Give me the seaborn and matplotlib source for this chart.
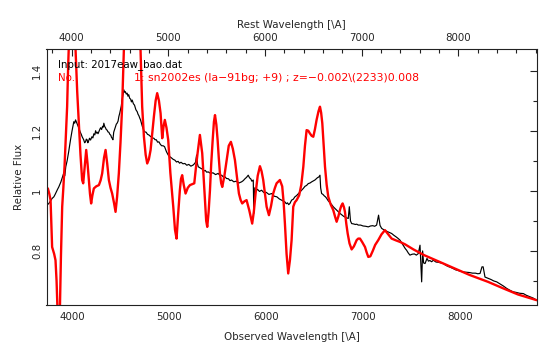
import numpy as np
import pandas as pd
import matplotlib
matplotlib.use("Agg")
import matplotlib.pyplot as plt
from matplotlib.ticker import MultipleLocator, FixedLocator
import seaborn as sns

# ---------------- data ----------------
z_fit = -0.002

obs_wave = [3731, 3745, 3760, 3775, 3790, 3807, 3820, 3830, 3845, 3858, 3870, 3880, 3895, 3910, 3920, 3930,
            3944, 3960, 3979, 3995, 4013, 4022, 4031, 4045, 4055, 4065, 4080, 4090, 4099, 4115, 4125, 4134,
            4142, 4150, 4158, 4165, 4175, 4186, 4200, 4210, 4220, 4230, 4238, 4246, 4255, 4263, 4272, 4282,
            4290, 4300, 4310, 4318, 4323, 4332, 4340, 4348, 4357, 4366, 4375, 4385, 4395, 4402, 4409, 4417,
            4425, 4435, 4445, 4452, 4460, 4470, 4478, 4487, 4495, 4503, 4510, 4520, 4530, 4538, 4545, 4555,
            4564, 4572, 4580, 4590, 4600, 4608, 4616, 4628, 4640, 4654, 4668, 4676, 4685, 4694, 4702, 4711,
            4720, 4728, 4737, 4748, 4760, 4774, 4788, 4798, 4810, 4825, 4840, 4852, 4865, 4878, 4892, 4906,
            4920, 4935, 4950, 4960, 4970, 4980, 4988, 5003, 5020, 5038, 5057, 5073, 5090, 5105, 5120, 5140,
            5160, 5180, 5200, 5222, 5246, 5258, 5270, 5281, 5290, 5298, 5320, 5340, 5355, 5370, 5385, 5401,
            5425, 5450, 5477, 5504, 5522, 5540, 5557, 5573, 5590, 5610, 5626, 5642, 5665, 5690, 5718, 5746,
            5763, 5780, 5797, 5814, 5828, 5840, 5852, 5866, 5872, 5882, 5896, 5910, 5930, 5952, 5976, 6000,
            6028, 6056, 6083, 6110, 6135, 6159, 6176, 6193, 6207, 6220, 6232, 6245, 6262, 6279, 6296, 6313,
            6330, 6348, 6366, 6383, 6400, 6417, 6434, 6452, 6470, 6487, 6503, 6517, 6530, 6543, 6555, 6562,
            6572, 6586, 6600, 6612, 6624, 6642, 6660, 6676, 6692, 6711, 6730, 6745, 6761, 6780, 6800, 6823,
            6847, 6858, 6870, 6882, 6900, 6920, 6935, 6950, 6975, 7000, 7027, 7054, 7077, 7100, 7120, 7140,
            7160, 7175, 7192, 7216, 7240, 7268, 7295, 7318, 7340, 7360, 7381, 7400, 7420, 7435, 7450, 7467,
            7484, 7507, 7530, 7550, 7570, 7588, 7605, 7615, 7625, 7640, 7660, 7675, 7690, 7708, 7726, 7753,
            7780, 7805, 7829, 7855, 7880, 7905, 7932, 7956, 7980, 8008, 8035, 8068, 8100, 8130, 8160, 8185,
            8208, 8228, 8240, 8259, 8290, 8320, 8350, 8380, 8415, 8450, 8484, 8517, 8548, 8580, 8618, 8655,
            8688, 8720, 8757, 8793]
obs_flux = [0.950, 0.955, 0.960, 0.968, 0.975, 0.980, 0.988, 0.995, 1.005, 1.013, 1.022, 1.030, 1.045, 1.060, 1.050, 1.080,
            1.100, 1.130, 1.170, 1.200, 1.230, 1.225, 1.236, 1.225, 1.218, 1.209, 1.195, 1.188, 1.180, 1.170, 1.160, 1.163,
            1.172, 1.170, 1.160, 1.165, 1.175, 1.169, 1.180, 1.176, 1.190, 1.186, 1.200, 1.192, 1.195, 1.190, 1.197, 1.205,
            1.210, 1.204, 1.215, 1.212, 1.225, 1.214, 1.210, 1.204, 1.202, 1.196, 1.195, 1.188, 1.185, 1.178, 1.175, 1.170,
            1.195, 1.205, 1.215, 1.222, 1.225, 1.232, 1.247, 1.258, 1.270, 1.282, 1.300, 1.318, 1.336, 1.328, 1.330, 1.322,
            1.325, 1.315, 1.320, 1.308, 1.305, 1.296, 1.302, 1.290, 1.285, 1.270, 1.263, 1.255, 1.250, 1.242, 1.236, 1.225,
            1.215, 1.208, 1.200, 1.196, 1.195, 1.188, 1.186, 1.183, 1.180, 1.176, 1.175, 1.170, 1.170, 1.162, 1.163, 1.155,
            1.150, 1.150, 1.147, 1.138, 1.130, 1.124, 1.119, 1.114, 1.110, 1.105, 1.102, 1.096, 1.098, 1.092, 1.095, 1.090,
            1.091, 1.085, 1.088, 1.082, 1.086, 1.090, 1.095, 1.119, 1.090, 1.080, 1.076, 1.072, 1.066, 1.068, 1.062, 1.063,
            1.058, 1.060, 1.054, 1.058, 1.051, 1.052, 1.046, 1.047, 1.041, 1.040, 1.034, 1.036, 1.030, 1.032, 1.026, 1.030,
            1.034, 1.040, 1.045, 1.052, 1.043, 1.040, 1.032, 1.036, 0.925, 1.010, 1.000, 1.005, 0.998, 1.002, 0.994, 0.995,
            0.988, 0.991, 0.982, 0.980, 0.973, 0.969, 0.966, 0.963, 0.957, 0.960, 0.954, 0.958, 0.969, 0.972, 0.980, 0.984,
            0.990, 0.996, 1.002, 1.008, 1.015, 1.018, 1.024, 1.026, 1.030, 1.033, 1.036, 1.040, 1.044, 1.046, 1.052, 1.010,
            0.991, 0.988, 0.983, 0.980, 0.975, 0.966, 0.960, 0.954, 0.947, 0.941, 0.935, 0.930, 0.925, 0.920, 0.915, 0.911,
            0.908, 0.947, 0.900, 0.891, 0.890, 0.888, 0.889, 0.886, 0.886, 0.883, 0.882, 0.880, 0.883, 0.884, 0.882, 0.886,
            0.919, 0.885, 0.875, 0.870, 0.866, 0.862, 0.858, 0.852, 0.847, 0.842, 0.836, 0.826, 0.815, 0.808, 0.802, 0.793,
            0.786, 0.789, 0.790, 0.786, 0.791, 0.819, 0.697, 0.800, 0.760, 0.758, 0.775, 0.766, 0.768, 0.764, 0.769, 0.763,
            0.762, 0.760, 0.758, 0.752, 0.748, 0.745, 0.741, 0.737, 0.735, 0.732, 0.730, 0.729, 0.728, 0.726, 0.726, 0.724,
            0.725, 0.747, 0.747, 0.713, 0.709, 0.705, 0.700, 0.697, 0.690, 0.683, 0.675, 0.669, 0.664, 0.662, 0.659, 0.658,
            0.652, 0.648, 0.643, 0.636]

tpl_wave = [3731, 3745, 3760, 3773, 3789, 3810, 3824, 3835, 3845, 3860, 3869, 3880, 3893, 3905, 3917,
            3930, 3944, 3955, 3970, 3990, 4010, 4031, 4048, 4065, 4082, 4099, 4110, 4125, 4141, 4155,
            4168, 4180, 4192, 4205, 4220, 4245, 4272, 4290, 4306, 4325, 4341, 4358, 4375, 4392, 4409,
            4428, 4444, 4460, 4478, 4495, 4512, 4530, 4560, 4600, 4640, 4680, 4702, 4719, 4737, 4755,
            4771, 4788, 4806, 4822, 4840, 4858, 4874, 4892, 4909, 4926, 4940, 4953, 4970, 4988, 5010,
            5040, 5058, 5074, 5090, 5108, 5120, 5132, 5148, 5167, 5190, 5212, 5235, 5257, 5275, 5291,
            5315, 5339, 5367, 5380, 5391, 5405, 5419, 5432, 5447, 5460, 5471, 5485, 5498, 5510, 5522,
            5535, 5546, 5568, 5591, 5613, 5635, 5655, 5677, 5698, 5718, 5735, 5752, 5775, 5797, 5825,
            5855, 5872, 5890, 5912, 5935, 5952, 5969, 5985, 6004, 6028, 6050, 6072, 6090, 6107, 6141,
            6165, 6180, 6193, 6210, 6227, 6245, 6262, 6279, 6296, 6314, 6340, 6362, 6383, 6400, 6417,
            6434, 6451, 6469, 6486, 6503, 6520, 6540, 6555, 6567, 6579, 6593, 6607, 6624, 6641, 6665,
            6692, 6710, 6727, 6745, 6761, 6775, 6789, 6803, 6813, 6827, 6841, 6860, 6882, 6905, 6934,
            6950, 6968, 6990, 7020, 7037, 7054, 7075, 7100, 7125, 7157, 7190, 7226, 7260, 7295, 7340,
            7381, 7433, 7520, 7630, 7800, 7946, 8100, 8291, 8450, 8600, 8793]
tpl_flux = [0.985, 1.008, 0.990, 0.969, 0.813, 0.790, 0.769, 0.700, 0.600, 0.560, 0.600, 0.780, 0.947, 1.010, 1.080,
            1.180, 1.280, 1.420, 1.560, 1.640, 1.620, 1.470, 1.330, 1.225, 1.120, 1.036, 1.025, 1.080, 1.136, 1.090,
            1.036, 0.990, 0.958, 0.985, 1.008, 1.015, 1.019, 1.035, 1.058, 1.110, 1.136, 1.090, 1.036, 1.010, 0.991,
            0.960, 0.930, 0.980, 1.058, 1.160, 1.280, 1.470, 1.650, 1.720, 1.700, 1.600, 1.470, 1.280, 1.180, 1.120,
            1.091, 1.105, 1.136, 1.190, 1.247, 1.300, 1.325, 1.300, 1.258, 1.175, 1.215, 1.236, 1.210, 1.169, 1.060,
            0.947, 0.870, 0.841, 0.920, 1.002, 1.040, 1.052, 1.020, 0.991, 1.010, 1.019, 1.022, 1.025, 1.080, 1.125,
            1.186, 1.125, 0.969, 0.900, 0.880, 0.930, 1.002, 1.090, 1.169, 1.230, 1.252, 1.220, 1.169, 1.110, 1.058,
            1.025, 1.013, 1.050, 1.102, 1.150, 1.163, 1.140, 1.102, 1.045, 0.991, 0.970, 0.958, 0.965, 0.969, 0.935,
            0.891, 0.930, 0.991, 1.050, 1.082, 1.065, 1.036, 0.995, 0.947, 0.919, 0.950, 0.991, 1.010, 1.025, 1.036,
            1.015, 0.960, 0.891, 0.790, 0.725, 0.770, 0.836, 0.947, 0.962, 0.969, 0.985, 1.020, 1.080, 1.150, 1.202,
            1.200, 1.191, 1.183, 1.180, 1.205, 1.236, 1.265, 1.280, 1.260, 1.225, 1.150, 1.080, 1.020, 0.980, 0.955,
            0.936, 0.915, 0.897, 0.915, 0.936, 0.950, 0.958, 0.945, 0.930, 0.890, 0.858, 0.825, 0.805, 0.815, 0.836,
            0.841, 0.841, 0.830, 0.813, 0.795, 0.780, 0.782, 0.800, 0.820, 0.836, 0.855, 0.869, 0.855, 0.841, 0.835,
            0.830, 0.822, 0.805, 0.786, 0.762, 0.741, 0.720, 0.697, 0.675, 0.655, 0.636]

x_ticks = [4000, 5000, 6000, 7000, 8000]
y_ticks = [0.8, 1.0, 1.2, 1.4]
y_ticklabels = ["0.8", "1", "1.2", "1.4"]
x_range = (3731, 8793)
y_range = (0.62, 1.472)

info_text = "Input: 2017eaw_bao.dat"
match_no = "No."
match_text = "1: sn2002es (Ia\u221291bg; +9) ; z=\u22120.002\\(2233)0.008"

# ---------------- plot ----------------
sns.set_style("white")
plt.rcParams["font.family"] = ["DejaVu Sans"]
fs = 7.4

fig = plt.figure(figsize=(5.57, 3.51), dpi=100)
ax = fig.add_axes([46.5 / 557, 46 / 351, 490.2 / 557, 256 / 351])

df_obs = pd.DataFrame({"wave": obs_wave, "flux": obs_flux})
df_tpl = pd.DataFrame({"wave": tpl_wave, "flux": tpl_flux})
sns.lineplot(data=df_obs, x="wave", y="flux", ax=ax, color="black", lw=0.85,
             sort=False, estimator=None)
sns.lineplot(data=df_tpl, x="wave", y="flux", ax=ax, color="#ff0000", lw=1.7,
             sort=False, estimator=None)

ax.set_xlim(*x_range)
ax.set_ylim(*y_range)

for s in ax.spines.values():
    s.set_color("#222222")
    s.set_linewidth(0.8)

ax.xaxis.set_major_locator(FixedLocator(x_ticks))
ax.xaxis.set_minor_locator(MultipleLocator(200))
ax.yaxis.set_major_locator(FixedLocator(y_ticks))
ax.yaxis.set_minor_locator(MultipleLocator(0.1))
ax.set_yticklabels(y_ticklabels, rotation=90, va="center", fontsize=fs)
ax.set_xticklabels([str(t) for t in x_ticks], fontsize=fs)
ax.tick_params(which="both", direction="in", top=False, right=True, color="#222222", width=0.8)
ax.tick_params(which="major", length=5)
ax.tick_params(which="minor", length=3)
ax.tick_params(axis="x", which="major", pad=5)
ax.tick_params(axis="y", which="major", pad=3)

ax.set_xlabel("Observed Wavelength [\\A]", fontsize=fs, labelpad=7)
ax.set_ylabel("Relative Flux", fontsize=fs, labelpad=6)

sec = ax.secondary_xaxis("top", functions=(lambda w: w / (1 + z_fit), lambda w: w * (1 + z_fit)))
sec.xaxis.set_major_locator(FixedLocator(x_ticks))
sec.xaxis.set_minor_locator(MultipleLocator(200))
sec.set_xticklabels([str(t) for t in x_ticks], fontsize=fs)
sec.tick_params(which="both", direction="in", color="#222222", width=0.8)
sec.tick_params(which="major", length=5, pad=4)
sec.tick_params(which="minor", length=3)
sec.set_xlabel("Rest Wavelength [\\A]", fontsize=fs, labelpad=4)
sec.spines["top"].set_visible(False)

ax.text(0.0235, 0.9375, info_text, transform=ax.transAxes, fontsize=fs,
        color="black", va="center", ha="left")
ax.text(0.0235, 0.887, match_no, transform=ax.transAxes, fontsize=fs,
        color="#ff0000", va="center", ha="left")
ax.text(0.178, 0.887, match_text, transform=ax.transAxes, fontsize=7.8,
        color="#ff0000", va="center", ha="left")

fig.savefig("out.png", dpi=100)
